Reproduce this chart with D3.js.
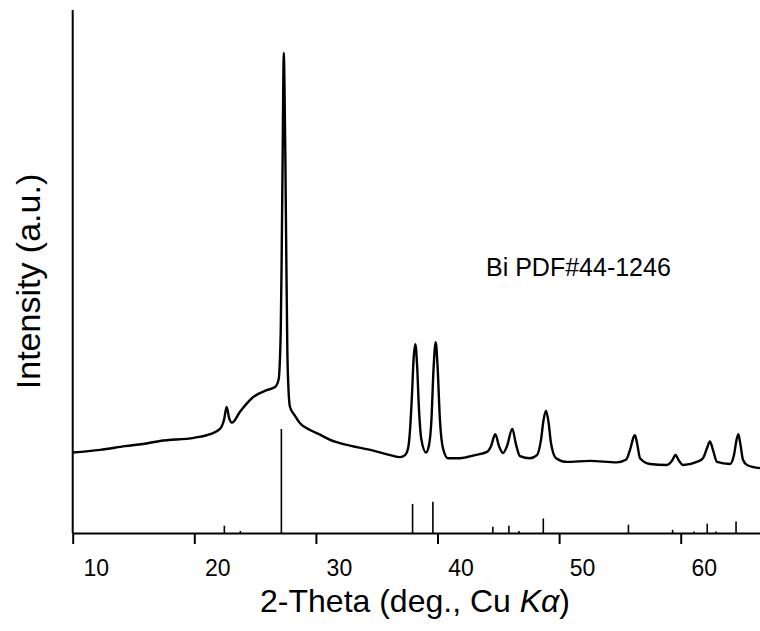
<!DOCTYPE html>
<html>
<head>
<meta charset="utf-8">
<script src="https://cdn.jsdelivr.net/npm/d3@7"></script>
<style>
  body { margin: 0; background: #fff; }
  text { font-family: "Liberation Sans", Arial, sans-serif; fill: #000; }
</style>
</head>
<body>
<div id="chart"></div>
<script>
// XRD pattern (2-theta in degrees, intensity in a.u.)
var theta = [10.0, 12.25, 14.3, 16.27, 17.18, 19.98, 21.3, 22.11, 22.44, 22.66, 22.86, 23.1,
    23.76, 24.85, 25.95, 26.64, 26.93, 27.11, 27.19, 27.27, 27.32, 27.36, 27.41, 27.48,
    27.56, 27.65, 27.75, 27.87, 28.28, 28.69, 29.52, 30.34, 31.17, 32.8, 34.65, 36.1,
    36.92, 37.33, 37.58, 37.74, 37.9, 38.03, 38.18, 38.32, 38.48, 38.68, 39.05, 39.3,
    39.5, 39.67, 39.85, 40.0, 40.2, 40.45, 40.86, 41.85, 43.08, 44.07, 44.4, 44.75,
    45.06, 45.39, 45.71, 46.15, 46.45, 46.78, 47.6, 48.18, 48.51, 48.72, 48.92, 49.13,
    49.33, 49.75, 50.62, 52.54, 54.74, 55.5, 55.83, 56.16, 56.24, 56.44, 56.65, 57.47,
    58.85, 59.28, 59.57, 59.86, 60.19, 61.32, 61.83, 62.16, 62.4, 62.65, 62.98, 64.05,
    64.38, 64.59, 64.74, 64.92, 65.12, 65.45, 66.52];
var counts = [154, 159, 166, 172, 176, 182, 189, 199, 216, 241, 220, 211,
    232, 260, 273, 279, 293, 388, 541, 732, 866, 918, 866, 732,
    541, 350, 273, 241, 224, 210, 197, 188, 178, 167, 158, 149,
    145, 149, 162, 197, 264, 331, 361, 321, 235, 178, 154, 168,
    216, 312, 365, 321, 216, 162, 143, 143, 149, 155, 166, 189,
    166, 153, 166, 199, 170, 147, 143, 149, 178, 216, 234, 212,
    172, 143, 136, 138, 135, 140, 159, 185, 187, 168, 143, 132,
    130, 138, 149, 138, 130, 136, 143, 162, 175, 159, 136, 132,
    149, 178, 189, 168, 140, 130, 124];

// Bi PDF#44-1246 reference lines (2-theta, relative intensity %)
var pdfTheta = [22.47, 23.79, 27.16, 37.95, 39.62, 44.55, 45.87, 46.7, 48.7, 55.7,
    59.33, 61.1, 62.18, 62.9, 64.55];
var pdfIntensity = [7, 2, 100, 28, 30, 6, 7, 2, 14, 8, 3, 1.5, 9, 1.5, 11];

var xTicks = [10, 20, 30, 40, 50, 60];

function XrdChart(){
    var width = 760, height = 631;
    var left = 72.7, right = 760, top = 10, bottom = 533;

    var xs = d3.scaleLinear().domain([10, 66.52]).range([left, right]);
    var ys = d3.scaleLinear().domain([0, 1000]).range([bottom, top]);
    var ysPdf = d3.scaleLinear().domain([0, 100]).range([bottom, bottom - 104]);

    var svg = d3.select("#chart").append("svg")
        .attr("width", width).attr("height", height);

    var pts = theta.map(function(t, i){ return [t, counts[i]]; });

    // reference sticks
    svg.append("g").selectAll("line.pdf").data(pdfTheta).enter().append("line")
        .attr("class", "pdf")
        .attr("x1", function(d){ return xs(d); })
        .attr("x2", function(d){ return xs(d); })
        .attr("y1", ysPdf(0))
        .attr("y2", function(d, i){ return ysPdf(pdfIntensity[i]); })
        .attr("stroke", "#000").attr("stroke-width", 1.6);

    // measured pattern
    svg.append("path").datum(pts)
        .attr("fill", "none").attr("stroke", "#000")
        .attr("stroke-width", 2.4).attr("stroke-linejoin", "round")
        .attr("d", d3.line()
            .curve(d3.curveMonotoneX)
            .x(function(d){ return xs(d[0]); })
            .y(function(d){ return ys(d[1]); }));

    // left axis, no ticks
    svg.append("line")
        .attr("x1", left).attr("x2", left).attr("y1", top).attr("y2", bottom)
        .attr("stroke", "#000").attr("stroke-width", 2);

    var xAxis = svg.append("g")
        .attr("transform", "translate(0," + bottom + ")")
        .call(d3.axisBottom(xs).tickValues(xTicks).tickSize(11).tickSizeOuter(0)
            .tickFormat(d3.format("d")));
    xAxis.select(".domain").attr("stroke-width", 2);
    xAxis.selectAll(".tick line").attr("stroke-width", 2);
    // labels sit to the right of their ticks in the original
    xAxis.selectAll(".tick text")
        .attr("x", 23).attr("y", 43).attr("dy", 0)
        .style("font-size", "23px");

    var xt = svg.append("text")
        .attr("x", 415).attr("y", 611.5)
        .attr("text-anchor", "middle")
        .style("font-size", "32px");
    xt.append("tspan").text("2-Theta (deg., Cu ");
    xt.append("tspan").style("font-style", "italic").text("K\u03b1");
    xt.append("tspan").text(")");

    svg.append("text")
        .attr("transform", "translate(39.5,281.5) rotate(-90)")
        .attr("text-anchor", "middle")
        .style("font-size", "34px")
        .text("Intensity (a.u.)");

    svg.append("text")
        .attr("x", 486).attr("y", 276)
        .style("font-size", "25px")
        .text("Bi PDF#44-1246");
}

XrdChart();
</script>
</body>
</html>
